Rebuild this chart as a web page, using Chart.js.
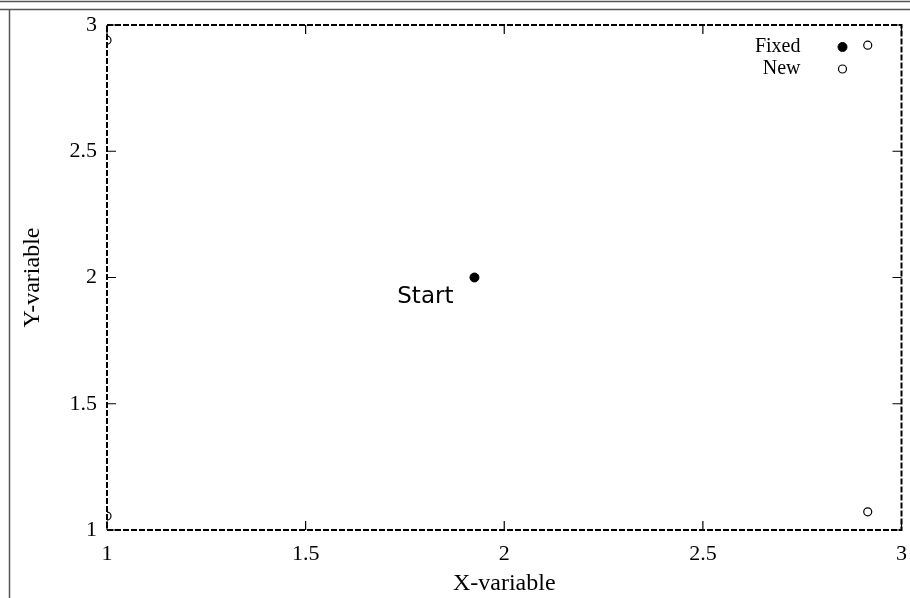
<!DOCTYPE html>
<html>
<head>
<meta charset="utf-8">
<script src="https://cdn.jsdelivr.net/npm/chart.js@4/dist/chart.umd.min.js"></script>
<style>
    body { margin: 0; background: #fff; }
    canvas { display: block; }
</style>
</head>
<body>
<canvas id="grafico" width="910" height="598"></canvas>
<script>
// Datos del grafico
const puntosFijosX = [1.925];
const puntosFijosY = [2.0];
const puntosNuevosX = [1.0, 1.0, 2.915, 2.915];
const puntosNuevosY = [2.94, 1.055, 1.072, 2.92];
const ticksEjes = [1, 1.5, 2, 2.5, 3];
const etiquetaInicio = 'Start';

const FUENTE_SERIF = '"Liberation Serif", "DejaVu Serif", serif';

function armarPuntos(xs, ys) {
    return xs.map((x, i) => ({ x: x, y: ys[i] }));
}

// Marco exterior de la imagen (doble linea arriba, linea a la izquierda)
const marcoPlugin = {
    id: 'marco',
    beforeDraw(chart) {
        const ctx = chart.ctx;
        ctx.save();
        ctx.strokeStyle = '#555';
        ctx.lineWidth = 1.5;
        ctx.beginPath();
        ctx.moveTo(0, 1.5); ctx.lineTo(chart.width, 1.5);
        ctx.moveTo(0, 9.5); ctx.lineTo(chart.width, 9.5);
        ctx.moveTo(9.5, 9.5); ctx.lineTo(9.5, chart.height);
        ctx.stroke();
        ctx.restore();
    }
};

// Borde del area, ticks hacia adentro, leyenda y etiqueta "Start"
const extrasPlugin = {
    id: 'extras',
    afterDatasetsDraw(chart) {
        const ctx = chart.ctx;
        const area = chart.chartArea;
        const sx = chart.scales.x;
        const sy = chart.scales.y;
        ctx.save();

        // borde punteado
        ctx.strokeStyle = '#000';
        ctx.lineWidth = 2;
        ctx.setLineDash([6, 2]);
        ctx.strokeRect(area.left, area.top, area.right - area.left, area.bottom - area.top);
        ctx.setLineDash([]);

        // ticks
        ctx.lineWidth = 1.2;
        ctx.beginPath();
        ticksEjes.forEach(t => {
            const px = sx.getPixelForValue(t);
            ctx.moveTo(px, area.bottom); ctx.lineTo(px, area.bottom - 9);
            ctx.moveTo(px, area.top); ctx.lineTo(px, area.top + 9);
            const py = sy.getPixelForValue(t);
            ctx.moveTo(area.left, py); ctx.lineTo(area.left + 9, py);
            ctx.moveTo(area.right, py); ctx.lineTo(area.right - 9, py);
        });
        ctx.stroke();

        // etiqueta Start junto al punto fijo
        const pFijo = chart.getDatasetMeta(0).data[0];
        ctx.fillStyle = '#000';
        ctx.font = '23px "DejaVu Sans", sans-serif';
        ctx.textAlign = 'right';
        ctx.textBaseline = 'middle';
        ctx.fillText(etiquetaInicio, pFijo.x - 21, pFijo.y + 20);

        // leyenda arriba a la derecha
        ctx.font = '20px ' + FUENTE_SERIF;
        const xTexto = area.right - 101;
        const xMarca = area.right - 59;
        chart.data.datasets.forEach((ds, i) => {
            const y = area.top + 22 + i * 22;
            ctx.fillStyle = '#000';
            ctx.fillText(ds.label, xTexto, y);
            ctx.beginPath();
            ctx.arc(xMarca, y, ds.pointRadius, 0, Math.PI * 2);
            if (ds.pointBackgroundColor !== '#fff') {
                ctx.fillStyle = ds.pointBackgroundColor;
                ctx.fill();
            }
            ctx.lineWidth = ds.pointBorderWidth;
            ctx.strokeStyle = ds.pointBorderColor;
            ctx.stroke();
        });
        ctx.restore();
    }
};

function generarGrafico() {
    const ctx = document.getElementById('grafico').getContext('2d');
    new Chart(ctx, {
        type: 'scatter',
        data: {
            datasets: [{
                label: 'Fixed',
                data: armarPuntos(puntosFijosX, puntosFijosY),
                pointRadius: 4.5,
                pointBackgroundColor: '#000',
                pointBorderColor: '#000',
                pointBorderWidth: 1
            }, {
                label: 'New',
                data: armarPuntos(puntosNuevosX, puntosNuevosY),
                pointRadius: 4,
                pointBackgroundColor: '#fff',
                pointBorderColor: '#000',
                pointBorderWidth: 1.2
            }]
        },
        options: {
            responsive: false,
            animation: false,
            layout: { padding: { left: 10, top: 25, right: 8, bottom: 0 } },
            plugins: {
                legend: { display: false },
                tooltip: { enabled: false }
            },
            scales: {
                x: {
                    type: 'linear',
                    min: 1,
                    max: 3,
                    grid: { display: false },
                    border: { display: false },
                    afterBuildTicks: scale => { scale.ticks = ticksEjes.map(v => ({ value: v })); },
                    afterFit: scale => { scale.height = 68; },
                    ticks: {
                        color: '#000',
                        padding: 3,
                        callback: v => String(v),
                        font: { family: FUENTE_SERIF, size: 22 }
                    },
                    title: {
                        display: true,
                        text: 'X-variable',
                        color: '#000',
                        padding: { top: 0, bottom: 0 },
                        font: { family: FUENTE_SERIF, size: 24 }
                    }
                },
                y: {
                    type: 'linear',
                    min: 1,
                    max: 3,
                    grid: { display: false },
                    border: { display: false },
                    afterBuildTicks: scale => { scale.ticks = ticksEjes.map(v => ({ value: v })); },
                    afterFit: scale => { scale.width = 97; },
                    ticks: {
                        color: '#000',
                        padding: 2,
                        callback: v => String(v),
                        font: { family: FUENTE_SERIF, size: 22 }
                    },
                    title: {
                        display: true,
                        text: 'Y-variable',
                        color: '#000',
                        padding: { top: 8 },
                        font: { family: FUENTE_SERIF, size: 24 }
                    }
                }
            }
        },
        plugins: [marcoPlugin, extrasPlugin]
    });
}

generarGrafico();
</script>
</body>
</html>
